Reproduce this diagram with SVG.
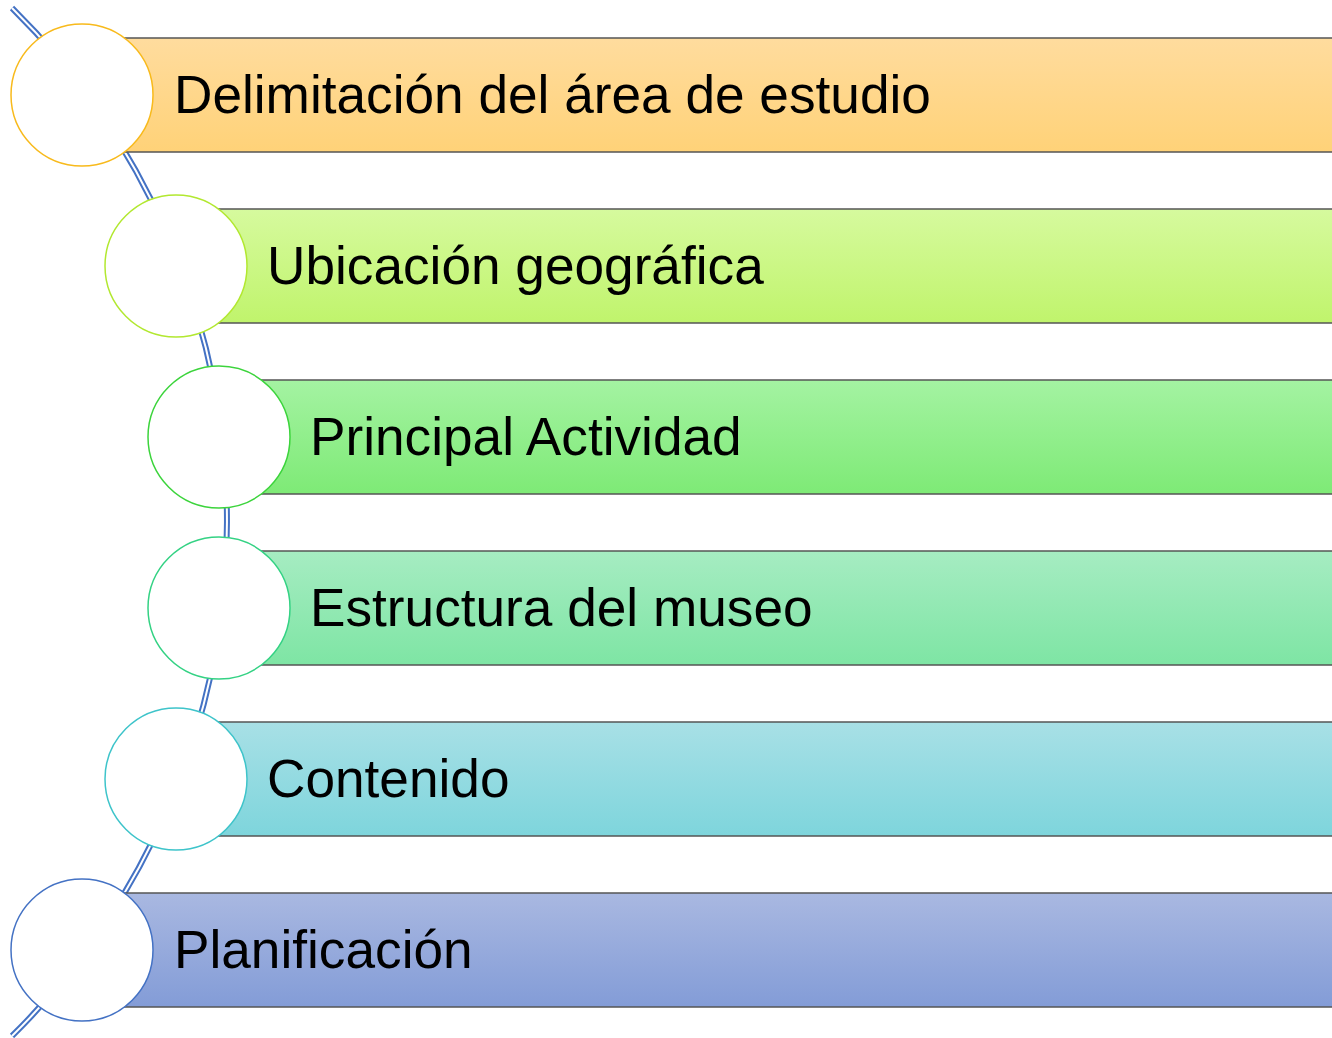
<svg xmlns="http://www.w3.org/2000/svg" width="1332" height="1038" viewBox="0 0 1332 1038">
<style>
.bar{stroke:#555555;stroke-width:1.5}
.c{fill:#ffffff;stroke-width:1.5}
.t{font-family:"Liberation Sans",Arial,sans-serif;font-size:53.2px;fill:#000000}
</style>
<defs>
<linearGradient id="g1" x1="0" y1="0" x2="0" y2="1"><stop offset="0" stop-color="#FFDC9E"/><stop offset="1" stop-color="#FFD278"/></linearGradient>
<linearGradient id="g2" x1="0" y1="0" x2="0" y2="1"><stop offset="0" stop-color="#D6FA9E"/><stop offset="1" stop-color="#C0F46C"/></linearGradient>
<linearGradient id="g3" x1="0" y1="0" x2="0" y2="1"><stop offset="0" stop-color="#A4F3A2"/><stop offset="1" stop-color="#7EEA76"/></linearGradient>
<linearGradient id="g4" x1="0" y1="0" x2="0" y2="1"><stop offset="0" stop-color="#A6ECC2"/><stop offset="1" stop-color="#7EE5A4"/></linearGradient>
<linearGradient id="g5" x1="0" y1="0" x2="0" y2="1"><stop offset="0" stop-color="#A8E0E6"/><stop offset="1" stop-color="#7ED5DC"/></linearGradient>
<linearGradient id="g6" x1="0" y1="0" x2="0" y2="1"><stop offset="0" stop-color="#A9B8E1"/><stop offset="1" stop-color="#839CD7"/></linearGradient>
</defs>
<g id="connectors">
<path d="M12,8 A722,722 0 0 1 12,1036" fill="none" stroke="#4472C4" stroke-width="6"/>
<path d="M12,8 A722,722 0 0 1 12,1036" fill="none" stroke="#ffffff" stroke-width="2"/>
</g>
<g id="node1">
<rect class="bar" x="82" y="38" width="1260" height="114" fill="url(#g1)"/>
<circle class="c" cx="82" cy="95" r="71" stroke="#F8BA1C"/>
<text class="t" x="174" y="113">Delimitación del área de estudio</text>
</g>
<g id="node2">
<rect class="bar" x="176" y="209" width="1166" height="114" fill="url(#g2)"/>
<circle class="c" cx="176" cy="266" r="71" stroke="#B2E830"/>
<text class="t" x="267" y="284">Ubicación geográfica</text>
</g>
<g id="node3">
<rect class="bar" x="219" y="380" width="1123" height="114" fill="url(#g3)"/>
<circle class="c" cx="219" cy="437" r="71" stroke="#3CD43C"/>
<text class="t" x="310" y="455">Principal Actividad</text>
</g>
<g id="node4">
<rect class="bar" x="219" y="551" width="1123" height="114" fill="url(#g4)"/>
<circle class="c" cx="219" cy="608" r="71" stroke="#34D284"/>
<text class="t" x="310" y="626">Estructura del museo</text>
</g>
<g id="node5">
<rect class="bar" x="176" y="722" width="1166" height="114" fill="url(#g5)"/>
<circle class="c" cx="176" cy="779" r="71" stroke="#3EC4CA"/>
<text class="t" x="267" y="797">Contenido</text>
</g>
<g id="node6">
<rect class="bar" x="82" y="893" width="1260" height="114" fill="url(#g6)"/>
<circle class="c" cx="82" cy="950" r="71" stroke="#4472C4"/>
<text class="t" x="174" y="968">Planificación</text>
</g>
</svg>
